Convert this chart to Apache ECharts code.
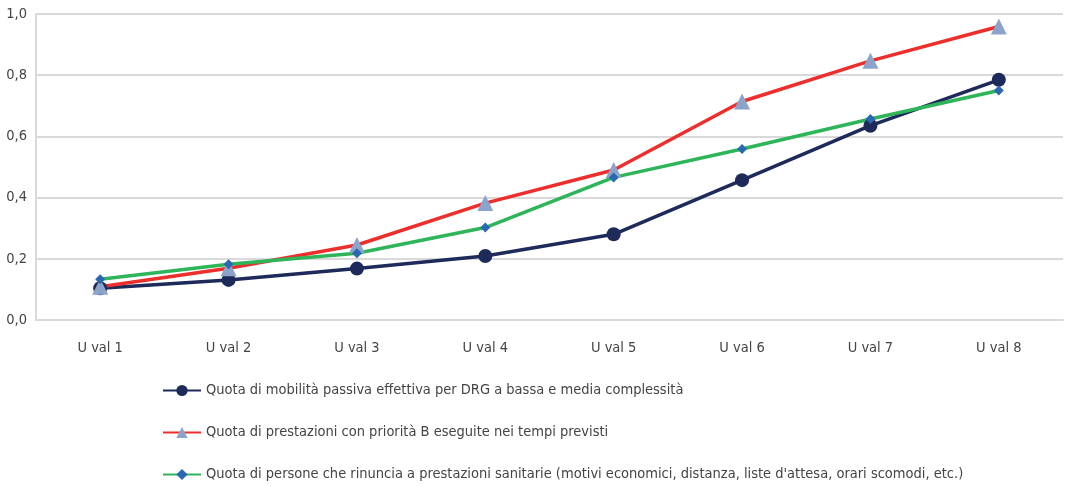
<!DOCTYPE html>
<html>
<head>
<meta charset="utf-8">
<script src="https://cdn.jsdelivr.net/npm/echarts@6/dist/echarts.min.js"></script>
<style>
    html, body{ margin: 0; padding: 0; background: #fff; }
    #chart{ width: 1068px; height: 487px; }
</style>
</head>
<body>
<div id="chart"></div>
<script>
const categories = ['U val 1', 'U val 2', 'U val 3', 'U val 4', 'U val 5', 'U val 6', 'U val 7', 'U val 8'];
const mobilita = [0.104, 0.131, 0.168, 0.209, 0.280, 0.457, 0.635, 0.785];
const prioritaB = [0.109, 0.169, 0.245, 0.382, 0.490, 0.714, 0.847, 0.959];
const rinuncia = [0.133, 0.182, 0.218, 0.302, 0.466, 0.559, 0.657, 0.750];
const seriesNames = [
    'Quota di mobilità passiva effettiva per DRG a bassa e media complessità',
    'Quota di prestazioni con priorità B eseguite nei tempi previsti',
    "Quota di persone che rinuncia a prestazioni sanitarie (motivi economici, distanza, liste d'attesa, orari scomodi, etc.)"
];

const font = '"DejaVu Sans Condensed", "Liberation Sans", sans-serif';
const chart = echarts.init(document.getElementById('chart'));

chart.setOption({
    animation: false,
    textStyle: { fontFamily: font },
    grid: { left: 36, right: 5, top: 14, bottom: 167 },
    xAxis: {
        type: 'category',
        data: categories,
        boundaryGap: true,
        axisLine: { lineStyle: { color: '#d9d9d9', width: 2 } },
        axisTick: { show: false },
        axisLabel: { color: '#444', fontSize: 14.5, fontFamily: font, margin: 21 }
    },
    yAxis: {
        type: 'value',
        min: 0,
        max: 1,
        interval: 0.2,
        axisLine: { show: true, lineStyle: { color: '#d9d9d9', width: 2 } },
        axisTick: { show: false },
        axisLabel: {
            color: '#444', fontSize: 14.5, fontFamily: font, margin: 9,
            formatter: function(v){ return v.toFixed(1).replace('.', ','); }
        },
        splitLine: { lineStyle: { color: '#d9d9d9', width: 2 } }
    },
    legend: {
        orient: 'vertical',
        left: 162,
        top: 383,
        padding: 0,
        itemWidth: 38,
        itemHeight: 14,
        itemGap: 27,
        textStyle: { color: '#444', fontSize: 14.5, fontFamily: font },
        data: seriesNames
    },
    series: [{
        name: seriesNames[0],
        type: 'line',
        data: mobilita,
        symbol: 'circle',
        symbolSize: 14,
        lineStyle: { color: '#1d2a5a', width: 3.5 },
        itemStyle: { color: '#1d2a5a' }
    },{
        name: seriesNames[1],
        type: 'line',
        data: prioritaB,
        symbol: 'triangle',
        symbolSize: 16,
        lineStyle: { color: '#ec2f2c', width: 3.5 },
        itemStyle: { color: '#8ca4ca' }
    },{
        name: seriesNames[2],
        type: 'line',
        data: rinuncia,
        symbol: 'diamond',
        symbolSize: 10,
        lineStyle: { color: '#2eb55a', width: 3.5 },
        itemStyle: { color: '#2c67b2' }
    }]
});
</script>
</body>
</html>
